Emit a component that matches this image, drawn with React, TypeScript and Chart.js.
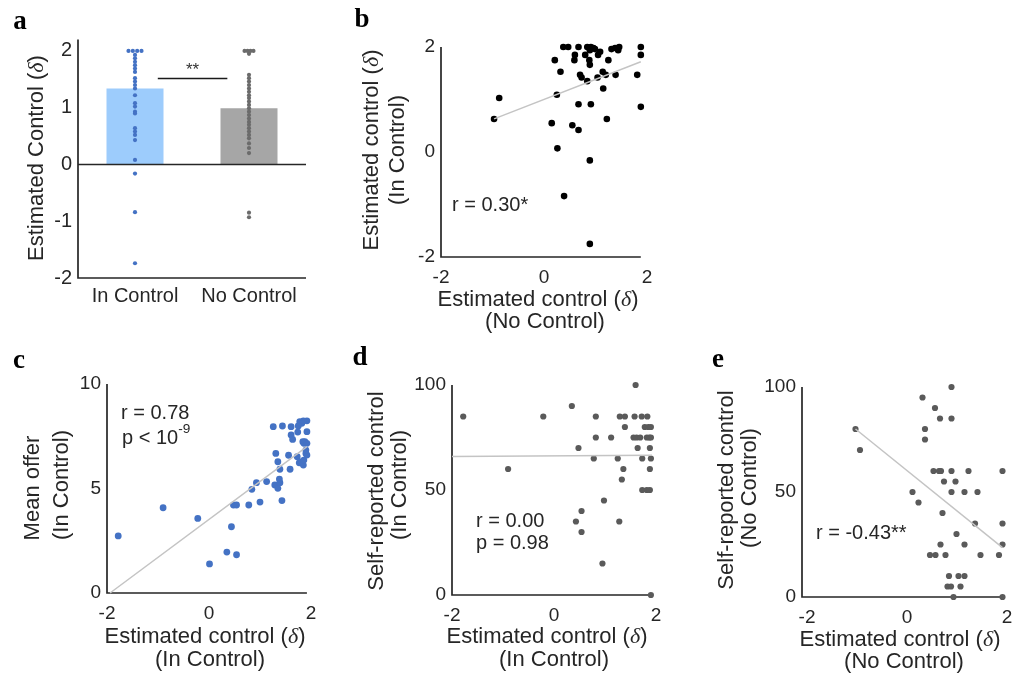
import React, { useEffect, useRef } from 'react';
import { Chart, registerables } from 'chart.js';
Chart.register(...registerables);

// ---------------- data ----------------
const barCategories = ['In Control', 'No Control'];
const barMeans = [1.34, 0.99];
const barTicks = [-2, -1, 0, 1, 2];
const inControlStrip = [2.0, 2.0, 2.0, 2.0, 1.93, 1.87, 1.81, 1.75, 1.69, 1.63, 1.52, 1.46, 1.4, 1.34, 1.22, 1.08, 1.02, 0.93, 0.9, 0.64, 0.58, 0.52, 0.43, 0.08, -0.16, -0.84, -1.74];
const noControlStrip = [2.0, 2.0, 2.0, 2.0, 1.95, 1.58, 1.52, 1.46, 1.4, 1.34, 1.28, 1.22, 1.17, 1.11, 1.05, 0.99, 0.93, 0.87, 0.81, 0.75, 0.7, 0.64, 0.58, 0.52, 0.46, 0.37, 0.29, 0.2, -0.85, -0.93];
const sigX = [0.7, 1.31];
const sigY = [1.515, 1.515];
const sigLabel = '**';

const deltaTicks = [-2, 0, 2];

// b: No Control (x) vs In Control (y)
const bX = [0.375, 0.47, 0.67, 0.84, 0.91, 0.96, 0.99, 1.31, 1.38, 1.46, 1.88, 0.89, 1.09, 1.44, 0.6, 0.8, 1.05, 1.88, 0.21, 0.59, 0.88, 1.25, 0.89, 0.32, 1.14, 0.7, 1.2, 1.39, 1.81, 0.73, 1.04, 0.84, 1.15, 0.25, -0.87, 0.67, 0.91, 1.88, -0.97, 1.22, 0.15, 0.55, 0.67, 0.26, 0.89, 0.39, 0.89];
const bY = [2.0, 2.0, 2.0, 2.0, 2.0, 1.98, 1.96, 1.96, 1.98, 2.0, 2.0, 1.94, 1.91, 1.94, 1.85, 1.85, 1.85, 1.85, 1.75, 1.75, 1.75, 1.75, 1.66, 1.53, 1.53, 1.47, 1.47, 1.47, 1.47, 1.42, 1.42, 1.35, 1.21, 1.09, 1.03, 0.91, 0.91, 0.86, 0.63, 0.63, 0.55, 0.51, 0.42, 0.07, -0.16, -0.84, -1.75];
const bFitX = [-0.97, 1.88];
const bFitY = [0.63, 1.72];
const bYTicks = [-2, 0, 2];

// c: In Control estimate (x) vs mean offer (y)
const cX = [-1.78, -0.9, -0.22, 0.01, 0.35, 0.54, 0.44, 0.48, 0.54, 0.78, 1.0, 1.43, 0.84, 0.93, 1.13, 1.29, 1.35, 1.39, 1.38, 1.39, 1.59, 1.35, 1.31, 1.56, 1.73, 1.77, 1.82, 1.85, 1.86, 1.9, 1.92, 1.9, 1.86, 1.88, 1.92, 1.92, 1.85, 1.78, 1.82, 1.75, 1.74, 1.61, 1.64, 1.61, 1.44, 1.26, 1.84, 1.92];
const cY = [2.73, 4.08, 3.57, 1.39, 1.96, 1.83, 3.17, 4.21, 4.21, 4.21, 4.35, 4.42, 4.96, 5.28, 5.33, 5.17, 5.01, 5.28, 5.45, 5.92, 5.92, 6.28, 6.68, 6.59, 6.52, 6.23, 6.28, 6.12, 6.36, 6.68, 6.6, 6.84, 7.16, 7.24, 7.72, 8.24, 8.24, 8.2, 8.12, 7.99, 7.7, 7.56, 7.35, 7.96, 7.99, 7.96, 7.24, 7.16];
const cFitX = [-1.94, 1.92];
const cFitY = [0.0, 7.0];
const cYTicks = [0, 5, 10];

// d: In Control estimate (x) vs self-reported control (y)
const dX = [-1.78, -0.21, 0.35, 1.6, -0.9, 0.48, 0.82, 0.82, 1.12, 0.78, 1.29, 1.39, 1.58, 1.72, 1.83, 1.39, 1.78, 1.85, 1.9, 1.56, 1.62, 1.69, 1.82, 1.87, 1.9, 1.64, 1.88, 1.25, 1.73, 1.9, 1.36, 1.88, 1.33, 1.73, 1.82, 1.88, 0.98, 0.54, 0.43, 1.28, 0.54, 0.95, 1.9];
const dY = [85, 85, 90, 100, 60, 70, 85, 75, 75, 65, 85, 85, 85, 85, 85, 80, 80, 80, 80, 75, 75, 75, 75, 75, 75, 70, 70, 65, 65, 65, 60, 60, 55, 50, 50, 50, 45, 40, 35, 35, 30, 15, 0];
const dFitX = [-2, 1.92];
const dFitY = [66, 66.5];
const pctTicks = [0, 50, 100];

// e: No Control estimate (x) vs self-reported control (y)
const eX = [-1.03, -0.94, 0.31, 0.56, 0.66, 0.89, 0.89, 0.36, 0.36, 0.53, 0.64, 0.68, 0.89, 1.23, 1.91, 0.74, 0.97, 0.11, 0.89, 1.15, 1.41, 0.23, 0.71, 1.36, 1.91, 0.99, 0.67, 1.15, 1.91, 0.46, 0.57, 0.77, 1.47, 1.84, 0.84, 1.03, 1.15, 0.81, 0.88, 1.07, 0.93, 1.91];
const eY = [80, 70, 95, 90, 85, 85, 100, 80, 75, 60, 60, 60, 60, 60, 60, 55, 55, 50, 50, 50, 50, 45, 40, 35, 35, 30, 25, 25, 25, 20, 20, 20, 20, 20, 10, 10, 10, 5, 5, 5, 0, 0];
const eFitX = [-1.03, 1.91];
const eFitY = [80, 23.5];

// ---------------- styling helpers ----------------
const SANS = '"Liberation Sans", Arial, sans-serif';
const SERIF = '"Liberation Serif", "Times New Roman", serif';
const INK = '#262626';
const FIT = '#c4c4c4';

type Seg = { t: string; italic?: boolean; sup?: boolean; serif?: boolean };
type TextItem = { segs: Seg[]; x: number; y: number; size: number; rotate?: boolean; align?: 'left' | 'center'; bold?: boolean; serif?: boolean; color?: string };
type Rect = { x: number; y: number; w: number; h: number };
type Area = { x0: number; x1: number; y0: number; y1: number };

const delta: Seg = { t: 'δ', italic: true, serif: true };
const estTitle = (word: string): Seg[] => [{ t: `Estimated ${word} (` }, delta, { t: ')' }];
const plain = (t: string): Seg[] => [{ t }];

function drawText(ctx: CanvasRenderingContext2D, item: TextItem, ox: number, oy: number) {
  ctx.save();
  ctx.translate(item.x - ox, item.y - oy);
  if (item.rotate) ctx.rotate(-Math.PI / 2);
  const font = (s: Seg) => {
    const size = s.sup ? item.size * 0.68 : item.size;
    const fam = s.serif || item.serif ? SERIF : SANS;
    return `${s.italic ? 'italic ' : ''}${item.bold ? 'bold ' : ''}${size}px ${fam}`;
  };
  const widths = item.segs.map((s) => {
    ctx.font = font(s);
    return ctx.measureText(s.t).width;
  });
  const total = widths.reduce((a, b) => a + b, 0);
  let cx = item.align === 'left' ? 0 : -total / 2;
  ctx.textAlign = 'left';
  ctx.textBaseline = 'middle';
  ctx.fillStyle = item.color || INK;
  item.segs.forEach((s, i) => {
    ctx.font = font(s);
    ctx.fillText(s.t, cx, s.sup ? -item.size * 0.42 : 0);
    cx += widths[i];
  });
  ctx.restore();
}

function pts(xs: number[], ys: number[]) {
  return xs.map((x, i) => ({ x, y: ys[i] }));
}

function strip(values: number[], center: number, spread: number) {
  const counts = new Map<number, number>();
  values.forEach((v) => counts.set(v, (counts.get(v) || 0) + 1));
  const seen = new Map<number, number>();
  return values.map((v) => {
    const n = counts.get(v)!;
    const k = seen.get(v) || 0;
    seen.set(v, k + 1);
    return { x: center + (k - (n - 1) / 2) * spread, y: v };
  });
}

function decor(rect: Rect, texts: TextItem[], axes: { xTo?: number; zero?: boolean }, extra?: (c: any) => void) {
  return {
    id: 'decor' + rect.x + '_' + rect.y,
    beforeDatasetsDraw(chart: any) {
      const { ctx, chartArea } = chart;
      const xs = chart.scales.x;
      const ys = chart.scales.y;
      ctx.save();
      ctx.strokeStyle = INK;
      ctx.lineWidth = 1.7;
      const right = axes.xTo !== undefined ? xs.getPixelForValue(axes.xTo) : chartArea.right;
      ctx.beginPath();
      ctx.moveTo(chartArea.left, chartArea.top);
      ctx.lineTo(chartArea.left, chartArea.bottom);
      ctx.lineTo(right, chartArea.bottom);
      ctx.stroke();
      ctx.restore();
    },
    afterDatasetsDraw(chart: any) {
      if (!axes.zero) return;
      const { ctx, chartArea } = chart;
      const y0 = chart.scales.y.getPixelForValue(0);
      ctx.save();
      ctx.strokeStyle = INK;
      ctx.lineWidth = 1.7;
      ctx.beginPath();
      ctx.moveTo(chartArea.left, y0);
      ctx.lineTo(chartArea.right, y0);
      ctx.stroke();
      ctx.restore();
    },
    afterDraw(chart: any) {
      const ctx = chart.ctx;
      texts.forEach((t) => drawText(ctx, t, rect.x, rect.y));
      if (extra) extra(chart);
    },
  };
}

function layoutFor(rect: Rect, area: Area) {
  return {
    padding: { left: 0, bottom: 0, top: area.y0 - rect.y, right: rect.x + rect.w - area.x1 },
  };
}

function tickOpts(size: number, padding: number) {
  return { color: INK, font: { family: SANS, size }, padding, maxRotation: 0, autoSkip: false };
}

// ---------------- panel builders ----------------
const rectA: Rect = { x: 0, y: 0, w: 330, h: 330 };
const areaA: Area = { x0: 78, x1: 306, y0: 39.6, y1: 278 };

function buildA(canvas: HTMLCanvasElement) {
  const texts: TextItem[] = [
    { segs: plain('a'), x: 20, y: 22, size: 27, bold: true, serif: true, color: '#000' },
    { segs: [{ t: 'Estimated Control (' }, delta, { t: ')' }], x: 37, y: 158, size: 22, rotate: true },
  ];
  const extra = (chart: any) => {
    const x = chart.scales.x2.getPixelForValue((sigX[0] + sigX[1]) / 2);
    const y = chart.scales.y.getPixelForValue(sigY[0]);
    drawText(chart.ctx, { segs: plain(sigLabel), x: x + rectA.x, y: y - 8 + rectA.y, size: 17, color: '#333' }, rectA.x, rectA.y);
  };
  return new Chart(canvas, {
    type: 'bar',
    data: {
      labels: barCategories,
      datasets: [
        { type: 'scatter', data: pts(sigX, sigY), xAxisID: 'x2', showLine: true, borderColor: '#1a1a1a', borderWidth: 1.7, pointRadius: 0, clip: false } as any,
        { type: 'scatter', data: strip(inControlStrip, 0.5, 0.038), xAxisID: 'x2', backgroundColor: '#4472C4', pointRadius: 2.1, borderWidth: 0, clip: false } as any,
        { type: 'scatter', data: strip(noControlStrip, 1.5, 0.026), xAxisID: 'x2', backgroundColor: '#6b6b6b', pointRadius: 2.1, borderWidth: 0, clip: false } as any,
        { type: 'bar', data: barMeans, backgroundColor: ['#9DCCFC', '#A6A6A6'], barPercentage: 0.5, categoryPercentage: 1, grouped: false, xAxisID: 'x' } as any,
      ],
    },
    options: {
      responsive: false,
      animation: false,
      layout: layoutFor(rectA, areaA),
      plugins: { legend: { display: false }, tooltip: { enabled: false } },
      scales: {
        x: {
          type: 'category',
          offset: true,
          grid: { display: false, drawTicks: false },
          border: { display: false },
          ticks: tickOpts(20, 6),
          afterFit: (s: any) => { s.height = rectA.y + rectA.h - areaA.y1; },
        },
        x2: { type: 'linear', min: 0, max: 2, offset: false, display: false },
        y: {
          type: 'linear',
          min: -2,
          max: 2.2,
          afterBuildTicks: (s: any) => { s.ticks = barTicks.map((v) => ({ value: v })); },
          grid: { display: false, drawTicks: false },
          border: { display: false },
          ticks: { ...tickOpts(20, 6), callback: (v: any) => String(v) },
          afterFit: (s: any) => { s.width = areaA.x0 - rectA.x; },
        },
      },
    } as any,
    plugins: [decor(rectA, texts, { zero: true }, extra) as any],
  });
}

type ScatterSpec = {
  rect: Rect; area: Area;
  xMin: number; xMax: number; yMin: number; yMax: number;
  yTicks: number[]; xs: number[]; ys: number[]; fitX: number[]; fitY: number[];
  color: string; radius: number; xTo: number; texts: TextItem[];
};

function buildScatter(canvas: HTMLCanvasElement, s: ScatterSpec) {
  return new Chart(canvas, {
    type: 'scatter',
    data: {
      datasets: [
        { data: pts(s.fitX, s.fitY), showLine: true, borderColor: FIT, borderWidth: 1.5, pointRadius: 0, clip: false } as any,
        { data: pts(s.xs, s.ys), backgroundColor: s.color, pointRadius: s.radius, borderWidth: 0, clip: false } as any,
      ],
    },
    options: {
      responsive: false,
      animation: false,
      layout: layoutFor(s.rect, s.area),
      plugins: { legend: { display: false }, tooltip: { enabled: false } },
      scales: {
        x: {
          type: 'linear', min: s.xMin, max: s.xMax,
          afterBuildTicks: (sc: any) => { sc.ticks = deltaTicks.map((v) => ({ value: v })); },
          grid: { display: false, drawTicks: false },
          border: { display: false },
          ticks: { ...tickOpts(19, 9), callback: (v: any) => String(v) },
          afterFit: (sc: any) => { sc.height = s.rect.y + s.rect.h - s.area.y1; },
        },
        y: {
          type: 'linear', min: s.yMin, max: s.yMax,
          afterBuildTicks: (sc: any) => { sc.ticks = s.yTicks.map((v) => ({ value: v })); },
          grid: { display: false, drawTicks: false },
          border: { display: false },
          ticks: { ...tickOpts(19, 6), callback: (v: any) => String(v) },
          afterFit: (sc: any) => { sc.width = s.area.x0 - s.rect.x; },
        },
      },
    } as any,
    plugins: [decor(s.rect, s.texts, { xTo: s.xTo }) as any],
  });
}

const specB: ScatterSpec = {
  rect: { x: 330, y: 0, w: 340, h: 340 },
  area: { x0: 441, x1: 647, y0: 47, y1: 257 },
  xMin: -2, xMax: 2, yMin: -2, yMax: 2, yTicks: bYTicks,
  xs: bX, ys: bY, fitX: bFitX, fitY: bFitY, color: '#000000', radius: 3.3, xTo: 1.88,
  texts: [
    { segs: plain('b'), x: 362, y: 20, size: 27, bold: true, serif: true, color: '#000' },
    { segs: estTitle('control'), x: 372, y: 150, size: 22, rotate: true },
    { segs: plain('(In Control)'), x: 398, y: 150, size: 22, rotate: true },
    { segs: estTitle('control'), x: 538, y: 300, size: 22 },
    { segs: plain('(No Control)'), x: 545, y: 322, size: 22 },
    { segs: plain('r = 0.30*'), x: 452, y: 205, size: 20, align: 'left' },
  ],
};

const specC: ScatterSpec = {
  rect: { x: 0, y: 340, w: 340, h: 337 },
  area: { x0: 107, x1: 311, y0: 384, y1: 593 },
  xMin: -2, xMax: 2, yMin: 0, yMax: 10, yTicks: cYTicks,
  xs: cX, ys: cY, fitX: cFitX, fitY: cFitY, color: '#4472C4', radius: 3.4, xTo: 1.92,
  texts: [
    { segs: plain('c'), x: 19, y: 361, size: 27, bold: true, serif: true, color: '#000' },
    { segs: plain('Mean offer'), x: 33, y: 488, size: 22, rotate: true },
    { segs: plain('(In Control)'), x: 62, y: 485, size: 22, rotate: true },
    { segs: estTitle('control'), x: 205, y: 637, size: 22 },
    { segs: plain('(In Control)'), x: 210, y: 660, size: 22 },
    { segs: plain('r = 0.78'), x: 121, y: 413, size: 20, align: 'left' },
    { segs: [{ t: 'p < 10' }, { t: '-9', sup: true }], x: 122, y: 438, size: 20, align: 'left' },
  ],
};

const specD: ScatterSpec = {
  rect: { x: 340, y: 340, w: 340, h: 337 },
  area: { x0: 452, x1: 656, y0: 385, y1: 595 },
  xMin: -2, xMax: 2, yMin: 0, yMax: 100, yTicks: pctTicks,
  xs: dX, ys: dY, fitX: dFitX, fitY: dFitY, color: '#5a5a5a', radius: 3.1, xTo: 1.9,
  texts: [
    { segs: plain('d'), x: 360, y: 358, size: 27, bold: true, serif: true, color: '#000' },
    { segs: plain('Self-reported control'), x: 377, y: 491, size: 22, rotate: true },
    { segs: plain('(In Control)'), x: 400, y: 485, size: 22, rotate: true },
    { segs: estTitle('control'), x: 547, y: 637, size: 22 },
    { segs: plain('(In Control)'), x: 554, y: 660, size: 22 },
    { segs: plain('r = 0.00'), x: 476, y: 521, size: 20, align: 'left' },
    { segs: plain('p = 0.98'), x: 476, y: 543, size: 20, align: 'left' },
  ],
};

const specE: ScatterSpec = {
  rect: { x: 680, y: 340, w: 350, h: 337 },
  area: { x0: 802, x1: 1007, y0: 387, y1: 597 },
  xMin: -2.1, xMax: 2, yMin: 0, yMax: 100, yTicks: pctTicks,
  xs: eX, ys: eY, fitX: eFitX, fitY: eFitY, color: '#5a5a5a', radius: 3.1, xTo: 1.92,
  texts: [
    { segs: plain('e'), x: 718, y: 360, size: 27, bold: true, serif: true, color: '#000' },
    { segs: plain('Self-reported control'), x: 727, y: 490, size: 22, rotate: true },
    { segs: plain('(No Control)'), x: 750, y: 488, size: 22, rotate: true },
    { segs: estTitle('control'), x: 900, y: 640, size: 22 },
    { segs: plain('(No Control)'), x: 904, y: 662, size: 22 },
    { segs: plain('r = -0.43**'), x: 816, y: 533, size: 20, align: 'left' },
  ],
};

function Panel({ rect, build }: { rect: Rect; build: (c: HTMLCanvasElement) => Chart }) {
  const ref = useRef<HTMLCanvasElement>(null);
  useEffect(() => {
    const chart = build(ref.current!);
    return () => chart.destroy();
  }, []);
  return (
    <canvas
      ref={ref}
      width={rect.w}
      height={rect.h}
      style={{ position: 'absolute', left: rect.x, top: rect.y, width: rect.w, height: rect.h }}
    />
  );
}

export default function App() {
  return (
    <div style={{ position: 'fixed', left: 0, top: 0, width: 1012, height: 677, overflow: 'hidden', background: '#fff' }}>
      <Panel rect={rectA} build={buildA} />
      <Panel rect={specB.rect} build={(c) => buildScatter(c, specB)} />
      <Panel rect={specC.rect} build={(c) => buildScatter(c, specC)} />
      <Panel rect={specD.rect} build={(c) => buildScatter(c, specD)} />
      <Panel rect={specE.rect} build={(c) => buildScatter(c, specE)} />
    </div>
  );
}
